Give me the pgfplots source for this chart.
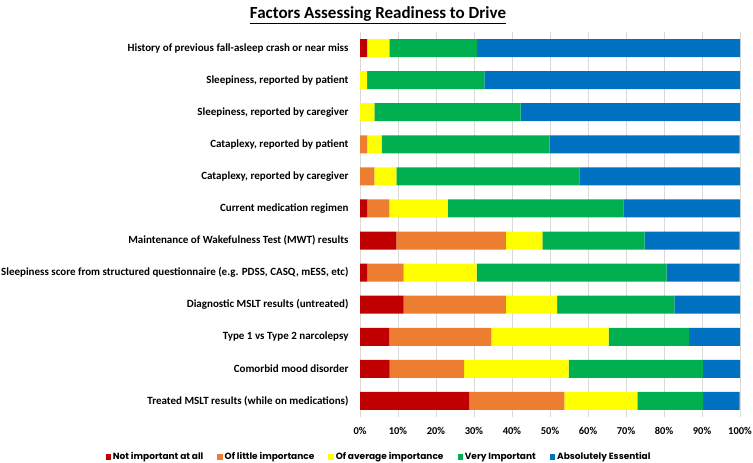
\documentclass[border=0pt]{standalone}
\usepackage{pgfplots}
\pgfplotsset{compat=1.18}
\usepackage{fontspec}
\setmainfont{Carlito}
\newfontfamily\legfont{Poppins}
\definecolor{cRed}{HTML}{C00000}
\definecolor{cOrange}{HTML}{ED7D31}
\definecolor{cYellow}{HTML}{FFFF00}
\definecolor{cGreen}{HTML}{00B050}
\definecolor{cBlue}{HTML}{0070C0}
\definecolor{cGrid}{HTML}{D9D9D9}
\begin{document}
\begin{tikzpicture}
\useasboundingbox (0,0) rectangle (753bp,463bp);
\node[font=\fontsize{17bp}{19bp}\selectfont\bfseries] at (378bp,448bp) {\underline{Factors Assessing Readiness to Drive}};
\begin{axis}[
  at={(360bp,46bp)}, anchor=south west,
  scale only axis, width=380bp, height=385bp,
  xbar stacked, bar width=18bp,
  xmin=0, xmax=100, ymin=0.5, ymax=12.5, y dir=reverse,
  xtick={0,10,...,100},
  xticklabel={\pgfmathprintnumber{\tick}\%},
  ytick={1,...,12},
  yticklabels={
    History of previous fall-asleep crash or near miss,
    {Sleepiness, reported by patient},
    {Sleepiness, reported by caregiver},
    {Cataplexy, reported by patient},
    {Cataplexy, reported by caregiver},
    Current medication regimen,
    Maintenance of Wakefulness Test (MWT) results,
    {Sleepiness score from structured questionnaire (e.g. PDSS, CASQ, mESS, etc)},
    Diagnostic MSLT results (untreated),
    Type 1 vs Type 2 narcolepsy,
    Comorbid mood disorder,
    Treated MSLT results (while on medications)},
  /pgf/number format/assume math mode=true,
  yticklabel style={font=\fontsize{11bp}{12bp}\selectfont\bfseries, xshift=-8bp},
  xticklabel style={font=\fontsize{10.5bp}{12bp}\selectfont\bfseries, yshift=-7bp},
  major tick length=0pt,
  xmajorgrids, grid style={cGrid, line width=0.6bp},
  axis line style={draw=none},
  legend columns=5,
  legend style={at={(0.05,-0.104)}, anchor=center, draw=none, fill=none,
    font=\fontsize{9bp}{10bp}\legfont\bfseries,
    /tikz/every even column/.append style={column sep=12bp}},
  legend image code/.code={\fill[#1] (0bp,-2.7bp) rectangle (5.4bp,2.7bp);},
]
\addplot[fill=cRed, draw=none] coordinates {(1.9,1) (0,2) (0,3) (0,4) (0,5) (1.9,6) (9.6,7) (1.9,8) (11.5,9) (7.7,10) (7.8,11) (28.8,12)};
\addplot[fill=cOrange, draw=none] coordinates {(0,1) (0,2) (0,3) (1.9,4) (3.8,5) (5.8,6) (28.8,7) (9.6,8) (26.9,9) (26.9,10) (19.6,11) (25.0,12)};
\addplot[fill=cYellow, draw=none] coordinates {(5.8,1) (1.9,2) (3.8,3) (3.8,4) (5.8,5) (15.4,6) (9.6,7) (19.2,8) (13.5,9) (30.8,10) (27.5,11) (19.2,12)};
\addplot[fill=cGreen, draw=none] coordinates {(23.1,1) (30.8,2) (38.5,3) (44.2,4) (48.1,5) (46.2,6) (26.9,7) (50.0,8) (30.8,9) (21.2,10) (35.3,11) (17.3,12)};
\addplot[fill=cBlue, draw=none] coordinates {(69.2,1) (67.3,2) (57.7,3) (50.0,4) (42.3,5) (30.8,6) (25.0,7) (19.2,8) (17.3,9) (13.5,10) (9.8,11) (9.6,12)};
\legend{Not important at all, Of little importance, Of average importance, Very Important, Absolutely Essential}
\end{axis}
\end{tikzpicture}
\end{document}
